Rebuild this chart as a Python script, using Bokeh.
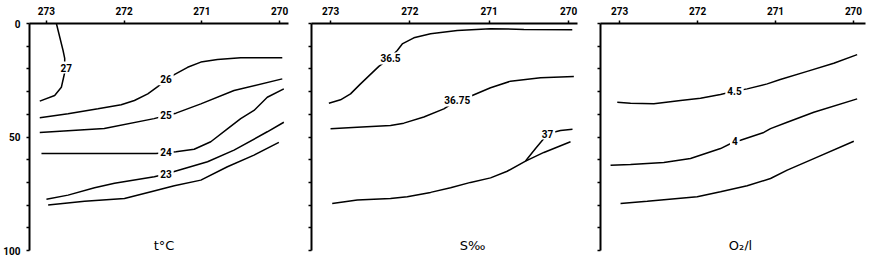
from bokeh.plotting import figure
from bokeh.layouts import row
from bokeh.models import Range1d, FixedTicker
from bokeh.core.properties import value
from bokeh.embed import file_html
from bokeh.resources import INLINE

# ---- data (station number on x, depth m on y) ----
stations = [273, 272, 271, 270]
depth_major = [0, 50, 100]
depth_minor = [10, 20, 30, 40, 60, 70, 80, 90]

# Temperature isotherms
t27_x = [272.872, 272.786, 272.765, 272.765, 272.808, 272.894, 273.086]
t27_y = [0.0, 11.9, 15.4, 21.6, 28.1, 31.7, 34.2]
t26_x = [273.086, 272.722, 272.337, 272.038, 271.868, 271.696, 271.568, 271.462, 271.355, 271.183, 271.013, 270.799, 270.5, 269.965]
t26_y = [41.5, 39.8, 37.6, 35.8, 33.9, 31.0, 27.8, 24.9, 22.5, 19.3, 17.0, 15.9, 15.1, 15.1]
t25_x = [273.086, 272.256, 271.615, 271.462, 271.333, 271.013, 270.586, 269.965]
t25_y = [48.0, 46.3, 41.9, 40.5, 39.5, 35.4, 29.5, 24.4]
t24_x = [273.064, 271.590, 271.333, 271.099, 270.885, 270.671, 270.5, 270.329, 270.158, 269.945]
t24_y = [57.3, 57.3, 56.5, 55.4, 52.1, 46.4, 41.9, 38.3, 32.5, 28.8]
t23_x = [273.0, 272.722, 272.381, 272.124, 271.612, 271.462, 271.333, 270.927, 270.586, 270.158, 269.945]
t23_y = [77.4, 75.6, 72.4, 70.4, 67.5, 66.3, 65.0, 60.9, 55.8, 47.7, 43.5]
t22_x = [272.978, 272.509, 271.996, 271.654, 271.355, 271.013, 270.671, 270.329, 270.009]
t22_y = [80.0, 78.3, 77.1, 74.1, 71.5, 69.0, 63.1, 58.0, 52.4]
t_label_text = ["27", "26", "25", "24", "23"]
t_label_x = [272.744, 271.462, 271.462, 271.462, 271.462]
t_label_y = [19.4, 24.6, 40.5, 56.6, 66.1]

# Salinity isohalines
s365_x = [273.021, 272.874, 272.748, 272.622, 272.391, 272.265, 272.159, 272.096, 271.950, 271.739, 271.403, 270.983, 270.563, 269.953]
s365_y = [35.1, 33.6, 31.0, 26.6, 18.9, 15.6, 11.9, 9.0, 6.3, 4.5, 3.1, 2.3, 2.6, 2.8]
s3675_x = [273.0, 272.663, 272.244, 272.076, 271.824, 271.572, 271.403, 271.214, 270.983, 270.731, 270.353, 269.933]
s3675_y = [46.4, 45.7, 44.9, 43.9, 41.2, 37.6, 33.9, 31.7, 28.3, 25.4, 23.9, 23.3]
s37_x = [272.979, 272.663, 272.244, 272.033, 271.739, 271.487, 271.235, 270.983, 270.773, 270.542, 270.311, 269.975]
s37_y = [79.3, 77.8, 77.1, 76.3, 74.4, 72.4, 70.0, 68.0, 65.1, 60.6, 56.8, 52.1]
s37b_x = [270.542, 270.416, 270.290, 270.227, 270.101, 269.950]
s37b_y = [60.6, 55.1, 49.8, 48.2, 47.1, 46.6]
s_label_text = ["36.5", "36.75", "37"]
s_label_x = [272.244, 271.403, 270.265]
s_label_y = [15.4, 33.9, 48.5]

# Oxygen isolines
o45_x = [273.029, 272.859, 272.560, 272.218, 271.962, 271.705, 271.526, 271.363, 271.106, 270.939, 270.594, 270.253, 269.953]
o45_y = [34.7, 35.1, 35.4, 33.9, 32.9, 31.3, 29.8, 28.8, 26.6, 24.7, 21.1, 17.5, 13.7]
o4_x = [273.115, 272.859, 272.432, 272.090, 271.705, 271.522, 271.449, 271.150, 271.064, 270.850, 270.509, 269.953]
o4_y = [62.4, 62.1, 61.2, 59.5, 55.1, 52.0, 51.4, 48.0, 46.3, 43.5, 39.1, 33.2]
o35_x = [272.987, 272.645, 272.004, 271.705, 271.363, 271.064, 270.850, 270.509, 269.996]
o35_y = [79.3, 78.3, 76.3, 74.1, 71.5, 68.3, 64.6, 59.5, 51.9]
o_label_text = ["4.5", "4"]
o_label_x = [271.526, 271.522]
o_label_y = [29.8, 51.9]

titles = ["t°C", "S‰", "O₂/l"]
title_x = [271.487, 271.210, 271.449]
title_y = [97.8, 97.8, 97.8]

FONT = "Roboto"
TFONT = "DejaVu Sans"


def make_panel(xr, bl, br, ylabels, lines, lx, ly, lt, lsize, tx, ty, tt):
    p = figure(width=290, height=258, output_backend="svg", toolbar_location=None,
               x_range=Range1d(*xr), y_range=Range1d(100, 0),
               x_axis_location="above",
               min_border_left=bl, min_border_right=br,
               min_border_top=23, min_border_bottom=8)
    p.outline_line_color = None
    p.grid.visible = False
    p.background_fill_color = "white"
    p.border_fill_color = "white"

    xa = p.xaxis[0]
    xa.ticker = FixedTicker(ticks=stations, minor_ticks=[])
    xa.axis_line_width = 2
    xa.axis_line_color = "black"
    xa.major_tick_out = 3
    xa.major_tick_in = 0
    xa.major_tick_line_width = 1.5
    xa.major_label_standoff = 6
    xa.major_label_text_font = FONT
    xa.major_label_text_font_size = "10px"
    xa.major_label_text_font_style = "bold"
    xa.major_label_text_color = "black"

    ya = p.yaxis[0]
    if ylabels:
        ya.ticker = FixedTicker(ticks=depth_major, minor_ticks=depth_minor)
    else:
        ya.ticker = FixedTicker(ticks=[], minor_ticks=depth_major + depth_minor)
    ya.axis_line_width = 2
    ya.axis_line_color = "black"
    ya.major_tick_out = 3
    ya.major_tick_in = 0
    ya.minor_tick_out = 3
    ya.minor_tick_in = 0
    ya.major_tick_line_width = 1.5
    ya.minor_tick_line_width = 1.5
    ya.minor_tick_line_color = "black"
    ya.major_label_standoff = 6
    ya.major_label_text_font = FONT
    ya.major_label_text_font_size = "10px"
    ya.major_label_text_font_style = "bold"
    ya.major_label_text_color = "black"

    for xs, ys in lines:
        p.line(xs, ys, line_color="black", line_width=1.5)

    p.text(x=lx, y=ly, text=lt, text_font=value(FONT), text_font_size=lsize,
           text_font_style="bold", text_color="black",
           text_align="center", text_baseline="middle",
           background_fill_color="white", padding=2)
    p.text(x=[tx], y=[ty], text=[tt], text_font=value(TFONT), text_font_size="13px",
           text_color="black", text_align="center", text_baseline="middle")
    return p


p1 = make_panel((273.218, 269.885), 28, 2, True,
                [(t27_x, t27_y), (t26_x, t26_y), (t25_x, t25_y), (t24_x, t24_y),
                 (t23_x, t23_y), (t22_x, t22_y)],
                t_label_x, t_label_y, t_label_text, "10px",
                title_x[0], title_y[0], titles[0])
p2 = make_panel((273.24, 269.887), 21, 3, False,
                [(s365_x, s365_y), (s3675_x, s3675_y), (s37_x, s37_y), (s37b_x, s37b_y)],
                s_label_x, s_label_y, s_label_text, "10px",
                title_x[1], title_y[1], titles[1])
p3 = make_panel((273.244, 269.846), 20, 5, False,
                [(o45_x, o45_y), (o4_x, o4_y), (o35_x, o35_y)],
                o_label_x, o_label_y, o_label_text, "10px",
                title_x[2], title_y[2], titles[2])

layout = row(p1, p2, p3)
open("out.html", "w").write(file_html(layout, INLINE))
